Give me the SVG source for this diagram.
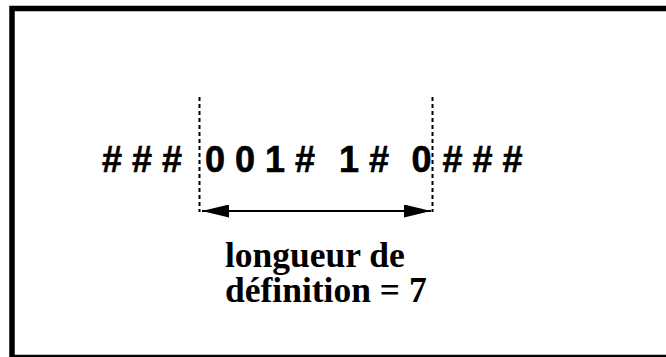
<svg xmlns="http://www.w3.org/2000/svg" width="666" height="357" viewBox="0 0 666 357">
<style>
.sym{font-family:"Liberation Sans",Arial,sans-serif;font-weight:bold;font-size:36px;fill:#000;stroke:#000;stroke-width:0.6}
.lbl{font-family:"Liberation Serif","Times New Roman",serif;font-weight:bold;font-size:35.5px;fill:#000}
.dash{stroke:#000;stroke-width:2;stroke-dasharray:4 3;fill:none}
</style>
<defs>
<marker id="ah" viewBox="0 0 27 13" refX="27" refY="6.5" markerWidth="27" markerHeight="13" markerUnits="userSpaceOnUse" orient="auto-start-reverse">
<path d="M0,0 L27,6.5 L0,13 Z" fill="#000"/>
</marker>
</defs>
<rect x="12" y="8.5" width="680" height="349" fill="#fff" stroke="#000" stroke-width="5.5"/>
<g id="sequence">
<text class="sym" x="102" y="172" xml:space="preserve"># # #</text>
<text class="sym" x="205" y="172" xml:space="preserve">0 0 1 #</text>
<text class="sym" x="339" y="172" xml:space="preserve">1 #</text>
<text class="sym" x="411.5" y="172">0</text>
<text class="sym" x="442.5" y="172" xml:space="preserve"># # #</text>
</g>
<g id="connectors">
<line class="dash" x1="199.5" y1="97" x2="199.5" y2="212"/>
<line class="dash" x1="432.5" y1="97" x2="432.5" y2="212"/>
<line x1="202" y1="211" x2="431" y2="211" stroke="#000" stroke-width="2" marker-start="url(#ah)" marker-end="url(#ah)"/>
</g>
<g id="label">
<text class="lbl" x="225" y="267">longueur de</text>
<text class="lbl" x="225" y="302">définition = 7</text>
</g>
</svg>
